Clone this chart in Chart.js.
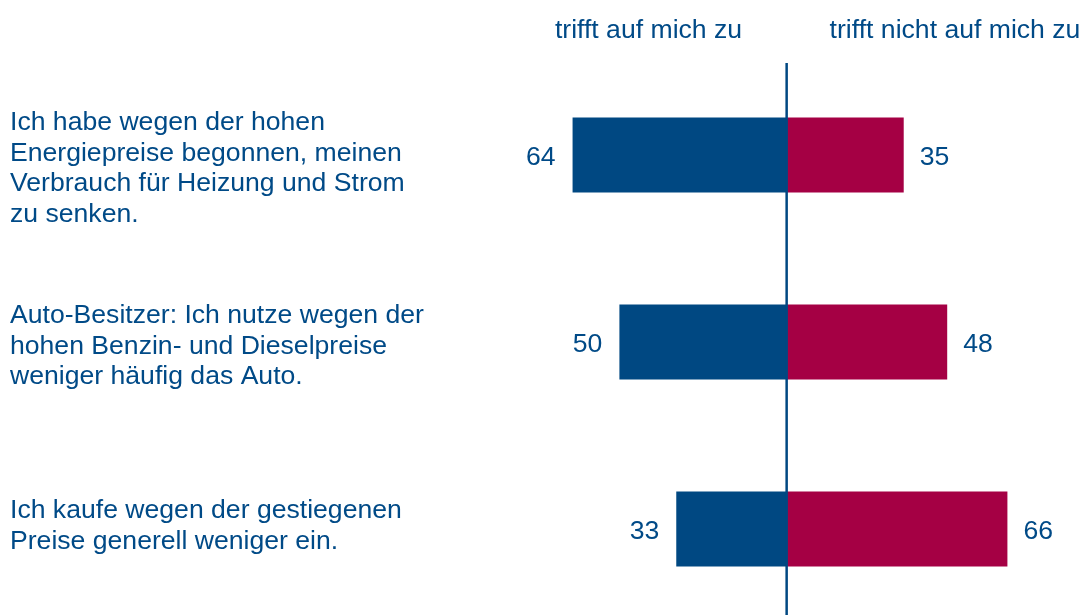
<!DOCTYPE html>
<html lang="de">
<head>
<meta charset="utf-8">
<title>Energiepreise</title>
<script src="https://cdn.jsdelivr.net/npm/chart.js@4"></script>
<style>
    html, body { margin: 0; padding: 0; background: #ffffff; overflow: hidden; }
    #wrap { position: relative; width: 1082px; height: 630px; }
</style>
</head>
<body>
<div id="wrap"><canvas id="barChart"></canvas></div>
<script>
// Survey answers in percent
const statements = [
    ['Ich habe wegen der hohen', 'Energiepreise begonnen, meinen', 'Verbrauch für Heizung und Strom', 'zu senken.'],
    ['Auto-Besitzer: Ich nutze wegen der', 'hohen Benzin- und Dieselpreise', 'weniger häufig das Auto.'],
    ['Ich kaufe wegen der gestiegenen', 'Preise generell weniger ein.']
];
const agree = [64, 50, 33];
const disagree = [35, 48, 66];
const headers = ['trifft auf mich zu', 'trifft nicht auf mich zu'];

const BLUE = '#004882';
const RED = '#a50044';
const TEXT = '#004a87';
const FONT = '26.6px "Liberation Sans", Arial, sans-serif';

// first text baseline of each statement, relative to its bar centre
const labelShift = [-25, -19, -11];
const lineHeight = 30.5;

const ctx = document.getElementById('barChart').getContext('2d');

const textPlugin = {
    id: 'divergingText',
    afterDatasetsDraw(chart) {
        const c = chart.ctx;
        const x = chart.scales.x;
        const y = chart.scales.y;
        const zero = x.getPixelForValue(0);

        c.save();

        // centre divider
        c.strokeStyle = BLUE;
        c.lineWidth = 2.5;
        c.beginPath();
        c.moveTo(zero, 63);
        c.lineTo(zero, chart.height);
        c.stroke();

        c.font = FONT;
        c.fillStyle = TEXT;

        // column headers
        c.textBaseline = 'alphabetic';
        c.textAlign = 'center';
        c.fillText(headers[0], 648.5, 38);
        c.fillText(headers[1], 955, 38);

        statements.forEach((lines, i) => {
            const cy = y.getPixelForValue(i);

            // statement text on the left
            c.textAlign = 'left';
            lines.forEach((line, k) => {
                c.fillText(line, 10, cy + labelShift[i] + k * lineHeight);
            });

            // values beside the bars
            c.textAlign = 'right';
            c.fillText(String(agree[i]), x.getPixelForValue(-agree[i]) - 17, cy + 9.5);
            c.textAlign = 'left';
            c.fillText(String(disagree[i]), x.getPixelForValue(disagree[i]) + 16, cy + 9.5);
        });

        c.restore();
    }
};

new Chart(ctx, {
    type: 'bar',
    data: {
        labels: statements.map(s => s.join(' ')),
        datasets: [
            {
                label: headers[0],
                data: agree.map(v => -v),
                backgroundColor: BLUE,
                borderWidth: 0,
                barPercentage: 0.4,
                categoryPercentage: 1
            },
            {
                label: headers[1],
                data: disagree,
                backgroundColor: RED,
                borderWidth: 0,
                barPercentage: 0.4,
                categoryPercentage: 1
            }
        ]
    },
    options: {
        indexAxis: 'y',
        responsive: true,
        maintainAspectRatio: false,
        animation: false,
        layout: {
            padding: { left: 552.5, right: 1, top: 61.5, bottom: 7.5 }
        },
        plugins: {
            legend: { display: false },
            tooltip: { enabled: false }
        },
        scales: {
            x: {
                stacked: true,
                display: false,
                min: -70,
                max: 88
            },
            y: {
                stacked: true,
                display: false
            }
        }
    },
    plugins: [textPlugin]
});
</script>
</body>
</html>
